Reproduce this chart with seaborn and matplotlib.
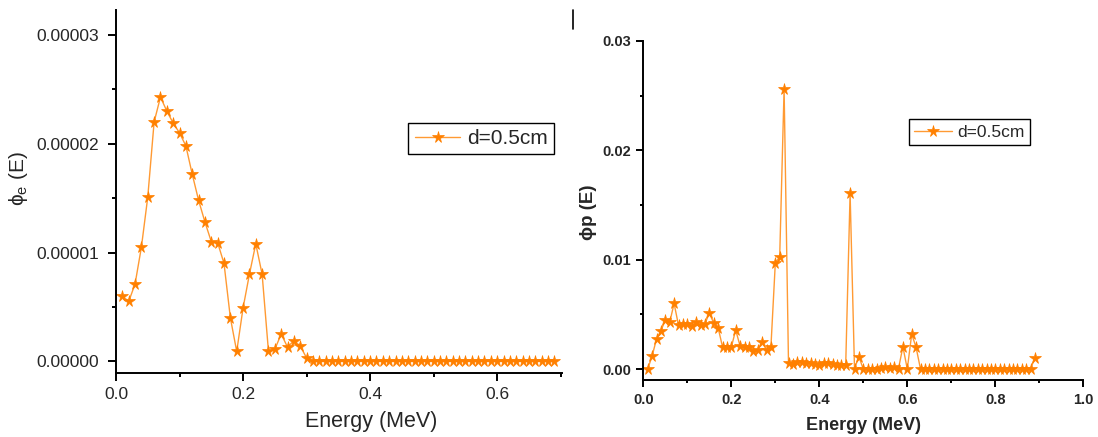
import numpy as np
import pandas as pd
import matplotlib
matplotlib.use("Agg")
import matplotlib.pyplot as plt
from matplotlib.lines import Line2D
from matplotlib.ticker import FormatStrFormatter, MultipleLocator
import seaborn as sns

sns.set_style("ticks")
plt.rcParams["font.family"] = ["Liberation Sans", "DejaVu Sans"]
plt.rcParams["mathtext.fontset"] = "custom"
plt.rcParams["mathtext.rm"] = "Liberation Sans"

# Electron spectrum, d = 0.5 cm (flux in units of 1e-5)
energy_e = np.round(np.arange(1, 70) * 0.01, 2)
phi_e_1e5 = [
    0.60, 0.55, 0.71, 1.05, 1.51, 2.20, 2.43, 2.30, 2.19, 2.10,
    1.98, 1.72, 1.48, 1.28, 1.10, 1.09, 0.90, 0.40, 0.09, 0.49,
    0.80, 1.08, 0.80, 0.09, 0.11, 0.25, 0.13, 0.19, 0.14, 0.03,
    0.005, 0.0, 0.0, 0.0, 0.0, 0.0, 0.0, 0.006, 0.006, 0.006,
    0.006, 0.0, 0.0, 0.0, 0.0, 0.0, 0.0, 0.0, 0.0, 0.0,
    0.0, 0.0, 0.0, 0.0, 0.0, 0.0, 0.0, 0.0, 0.0, 0.0,
    0.0, 0.0, 0.0, 0.0, 0.0, 0.0, 0.0, 0.0, 0.0,
]
phi_e = np.array(phi_e_1e5) * 1e-5

# Photon spectrum, d = 0.5 cm
energy_p = np.round(np.arange(1, 90) * 0.01, 2)
phi_p = [
    0.0, 0.00119, 0.00274, 0.0035, 0.00448, 0.00427, 0.0060, 0.0040, 0.0041, 0.0041,
    0.00393, 0.0043, 0.0040, 0.0041, 0.00515, 0.0042, 0.00378, 0.00204, 0.0020, 0.0020,
    0.00357, 0.0021, 0.0020, 0.0020, 0.00168, 0.00177, 0.0025, 0.00174, 0.0020, 0.00967,
    0.01028, 0.02565, 0.00052, 0.00046, 0.00067, 0.00061, 0.00052, 0.00052, 0.00046, 0.00040,
    0.00058, 0.00052, 0.00046, 0.00037, 0.00037, 0.00037, 0.01607, 0.00005, 0.00113, 0.0,
    0.0, 0.00005, 0.0, 0.0001, 0.00015, 0.0001, 0.00015, 0.00005, 0.00204, 0.0,
    0.0032, 0.00198, 0.0, 0.0, 0.0, 0.0, 0.0, 0.0, 0.0, 0.0,
    0.0, 0.0, 0.0, 0.0, 0.0, 0.0, 0.0, 0.0, 0.0, 0.0,
    0.0, 0.0, 0.0, 0.0, 0.0, 0.0, 0.0, 0.0, 0.00104,
]

series_label = "d=0.5cm"
line_color = "#FF9A33"
marker_color = "#FF8000"

df_e = pd.DataFrame({"E": energy_e, "phi": phi_e})
df_p = pd.DataFrame({"E": energy_p, "phi": phi_p})

W, H = 1098, 437
fig = plt.figure(figsize=(W / 100, H / 100), dpi=100)
fig.patch.set_facecolor("white")

ax1 = fig.add_axes([116 / W, (H - 373) / H, 446 / W, 363 / H])
ax2 = fig.add_axes([643.3 / W, (H - 380) / H, 440 / W, 339 / H])

style = dict(marker="*", markersize=8.5, markerfacecolor=marker_color,
             markeredgecolor=marker_color, markeredgewidth=0.5,
             color=line_color, linewidth=1.0)

sns.lineplot(data=df_e, x="E", y="phi", ax=ax1, label=series_label, **style)
sns.lineplot(data=df_p, x="E", y="phi", ax=ax2, label=series_label, **style)

for ax in (ax1, ax2):
    sns.despine(ax=ax)
    ax.set_facecolor("white")
    for sp in ("left", "bottom"):
        ax.spines[sp].set_linewidth(1.4)
        ax.spines[sp].set_color("black")
    ax.tick_params(which="both", direction="out", width=1.4, color="black")

# Left panel: electrons
ax1.set_xlim(0, 0.702)
ax1.set_ylim(-1.08e-6, 3.23e-5)
ax1.xaxis.set_major_locator(MultipleLocator(0.2))
ax1.xaxis.set_minor_locator(MultipleLocator(0.1))
ax1.yaxis.set_major_locator(MultipleLocator(1e-5))
ax1.yaxis.set_minor_locator(MultipleLocator(0.5e-5))
ax1.xaxis.set_major_formatter(FormatStrFormatter("%.1f"))
ax1.yaxis.set_major_formatter(FormatStrFormatter("%.5f"))
ax1.tick_params(which="major", length=6, labelsize=12.5)
ax1.tick_params(which="minor", length=3)
ax1.tick_params(axis="y", which="major", pad=6)
ax1.tick_params(axis="x", which="major", pad=4)
ax1.set_xlabel("Energy (MeV)", fontsize=15.5)
ax1.set_ylabel("ϕ$_\\mathregular{e}$ (E)", fontsize=15)
ax1.xaxis.set_label_coords(0.572, -0.105)
ax1.yaxis.set_label_coords(-0.192, 0.537)
leg1 = ax1.legend(loc="center", bbox_to_anchor=((481 - 116) / 446, (373 - 138.3) / 363),
                  fontsize=15, frameon=True, fancybox=False, handlelength=2.2,
                  handletextpad=0.3, borderpad=0.3, borderaxespad=0)
leg1.get_frame().set_edgecolor("black")
leg1.get_frame().set_linewidth(1.0)
leg1.get_frame().set_alpha(1)

# Right panel: photons
ax2.set_xlim(0, 1.0)
ax2.set_ylim(-0.001, 0.03)
ax2.xaxis.set_major_locator(MultipleLocator(0.2))
ax2.xaxis.set_minor_locator(MultipleLocator(0.1))
ax2.yaxis.set_major_locator(MultipleLocator(0.01))
ax2.yaxis.set_minor_locator(MultipleLocator(0.005))
ax2.xaxis.set_major_formatter(FormatStrFormatter("%.1f"))
ax2.yaxis.set_major_formatter(FormatStrFormatter("%.2f"))
ax2.tick_params(which="major", length=5, labelsize=10.5)
ax2.tick_params(which="minor", length=2.5)
ax2.tick_params(axis="y", which="major", pad=4)
ax2.tick_params(axis="x", which="major", pad=4)
for lbl in ax2.get_xticklabels() + ax2.get_yticklabels():
    lbl.set_fontweight("bold")
ax2.set_xlabel("Energy (MeV)", fontsize=13, fontweight="bold")
ax2.set_ylabel("ϕp (E)", fontsize=13.5, fontweight="bold")
ax2.xaxis.set_label_coords(0.5, -0.11)
ax2.yaxis.set_label_coords(-0.105, 0.496)
leg2 = ax2.legend(loc="center", bbox_to_anchor=((969.5 - 643.3) / 440, (380 - 132) / 339),
                  fontsize=12.5, frameon=True, fancybox=False, handlelength=2.2,
                  handletextpad=0.3, borderpad=0.3, borderaxespad=0)
leg2.get_frame().set_edgecolor("black")
leg2.get_frame().set_linewidth(1.0)
leg2.get_frame().set_alpha(1)

# Short divider stroke near the top between the panels
fig.add_artist(Line2D([573 / W, 573 / W], [1 - 10 / H, 1 - 29 / H],
                      transform=fig.transFigure, color="black", linewidth=1.2))

fig.savefig("out.png", dpi=100, facecolor="white")
